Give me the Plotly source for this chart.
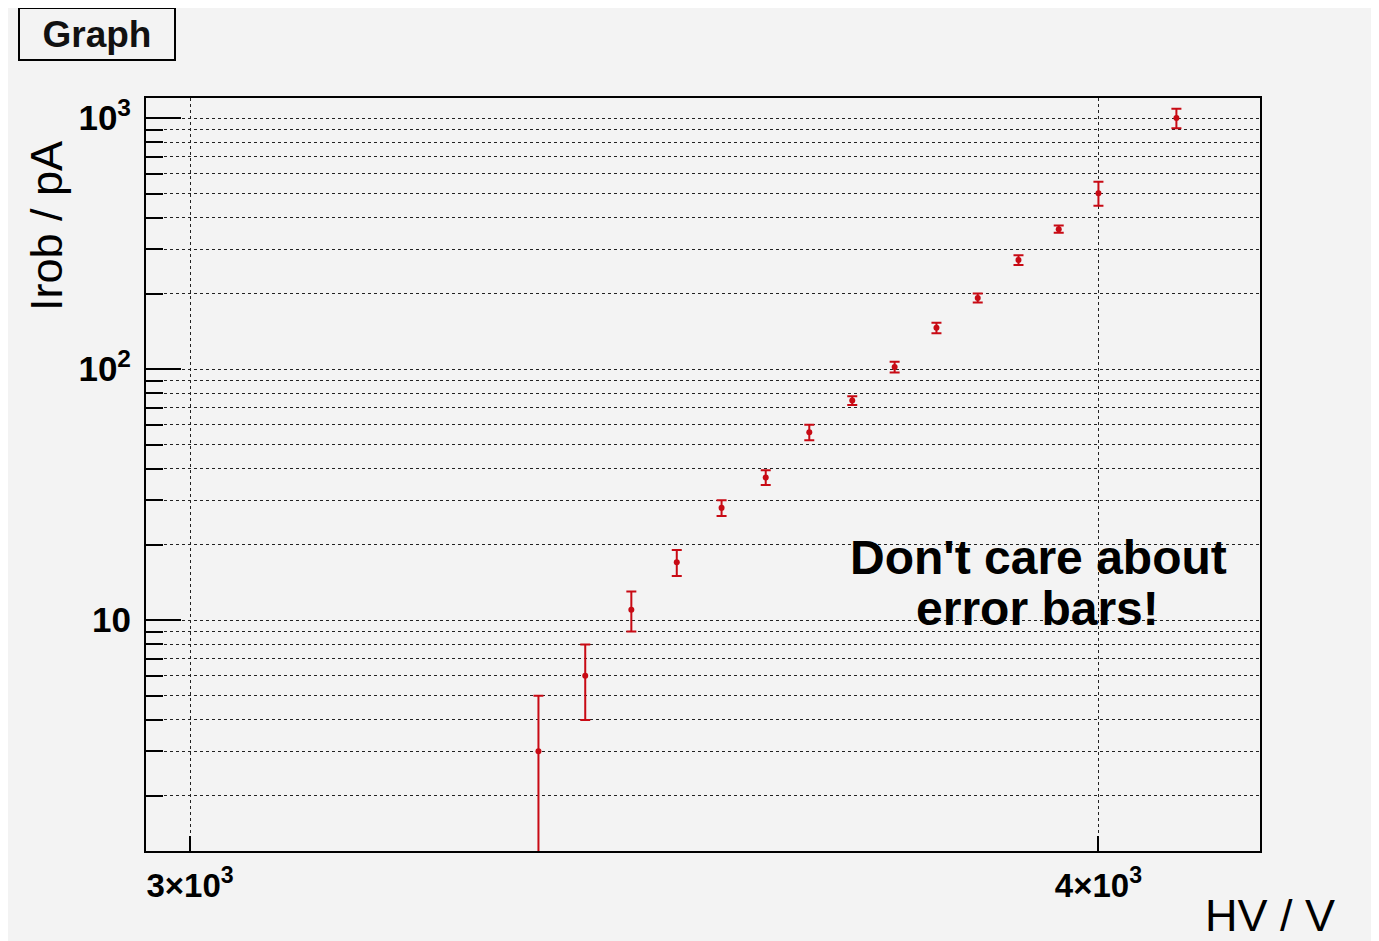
import plotly.graph_objects as go

# Data
hv_volts = [3350, 3400, 3450, 3500, 3550, 3600, 3650, 3700, 3750, 3800, 3850, 3900, 3950, 4000, 4100]
irob_pa = [3, 6, 11, 17, 28, 37, 56, 75, 102, 146, 192, 272, 361, 502, 1000]
irob_err = [2, 2, 2, 2, 2, 2.5, 4, 3, 5, 7, 8, 12, 12, 55, 90]

x_tick_vals = [3000, 4000]
x_tick_text = ["3\u00d710<sup>3</sup>", "4\u00d710<sup>3</sup>"]
y_major_vals = [10, 100, 1000]
y_major_text = ["10", "10<sup>2</sup>", "10<sup>3</sup>"]
y_minor_vals = [2, 3, 4, 5, 6, 7, 8, 9, 20, 30, 40, 50, 60, 70, 80, 90, 200, 300, 400, 500, 600, 700, 800, 900]

BG = "#f3f3f3"
RED = "#c80a14"
FONT = "Liberation Sans"
GRID = "#222222"

# Figure is placed at an 8px page offset, so size/margins compensate
W, H = 1371, 933
L, T = 138, 90
PW, PH = 1114, 753


def px_to_paper(px, py):
    return (px - 8 - L) / PW, (T + PH - (py - 8)) / PH


fig = go.Figure()
fig.add_trace(go.Scatter(
    x=hv_volts, y=irob_pa,
    mode="markers",
    marker=dict(color=RED, size=6, symbol="circle"),
    error_y=dict(type="data", array=irob_err, visible=True, color=RED, thickness=2, width=5),
    showlegend=False,
))

fig.update_layout(
    width=W, height=H,
    paper_bgcolor=BG, plot_bgcolor=BG,
    margin=dict(l=L, r=W - L - PW, t=T, b=H - T - PH),
    font=dict(family=FONT, color="black"),
    showlegend=False,
)

fig.update_xaxes(
    type="log",
    range=[3.47107, 3.62428],
    tickmode="array", tickvals=x_tick_vals, ticktext=x_tick_text,
    ticks="inside", ticklen=15, tickwidth=2, tickcolor="black",
    tickfont=dict(family=FONT, size=33, weight="bold", color="black"),
    ticklabelstandoff=4,
    showgrid=True, gridcolor=GRID, griddash="dot", gridwidth=1,
    showline=True, linecolor="black", linewidth=2, mirror=True,
    zeroline=False,
)

fig.update_yaxes(
    type="log",
    range=[0.08, 3.08],
    tickmode="array", tickvals=y_major_vals, ticktext=y_major_text,
    ticks="inside", ticklen=35, tickwidth=2, tickcolor="black",
    tickfont=dict(family=FONT, size=35, weight="bold", color="black"),
    ticklabelstandoff=6,
    showgrid=True, gridcolor=GRID, griddash="dot", gridwidth=1,
    minor=dict(tickmode="array", tickvals=y_minor_vals, ticks="inside", ticklen=17,
               tickwidth=2, tickcolor="black", showgrid=True, gridcolor=GRID,
               griddash="dot", gridwidth=1),
    showline=True, linecolor="black", linewidth=2, mirror=True,
    zeroline=False,
)

# Title box
gx, gy = px_to_paper(97, 34)
fig.add_annotation(
    text="<b>Graph</b>", xref="paper", yref="paper", x=gx, y=gy,
    xanchor="center", yanchor="middle", showarrow=False,
    font=dict(family=FONT, size=37, color="#111"),
    bordercolor="black", borderwidth=2, bgcolor=BG, width=152, height=48,
)

# Axis titles
yx, yy = px_to_paper(47, 226)
fig.add_annotation(
    text="Irob / pA", xref="paper", yref="paper", x=yx, y=yy,
    xanchor="center", yanchor="middle", textangle=-90, showarrow=False,
    font=dict(family=FONT, size=45, color="black"),
)
xx, xy = px_to_paper(1270, 916)
fig.add_annotation(
    text="HV / V", xref="paper", yref="paper", x=xx, y=xy,
    xanchor="center", yanchor="middle", showarrow=False,
    font=dict(family=FONT, size=45, color="black"),
)

# Note (two lines, tight spacing)
n1x, n1y = px_to_paper(1038, 557)
fig.add_annotation(
    text="<b>Don't care about</b>", xref="paper", yref="paper",
    x=n1x, y=n1y, xanchor="center", yanchor="middle", showarrow=False,
    font=dict(family=FONT, size=48, color="black"),
)
n2x, n2y = px_to_paper(1037, 608)
fig.add_annotation(
    text="<b>error bars!</b>", xref="paper", yref="paper",
    x=n2x, y=n2y, xanchor="center", yanchor="middle", showarrow=False,
    font=dict(family=FONT, size=48, color="black"),
)

fig.write_html("out.html")
